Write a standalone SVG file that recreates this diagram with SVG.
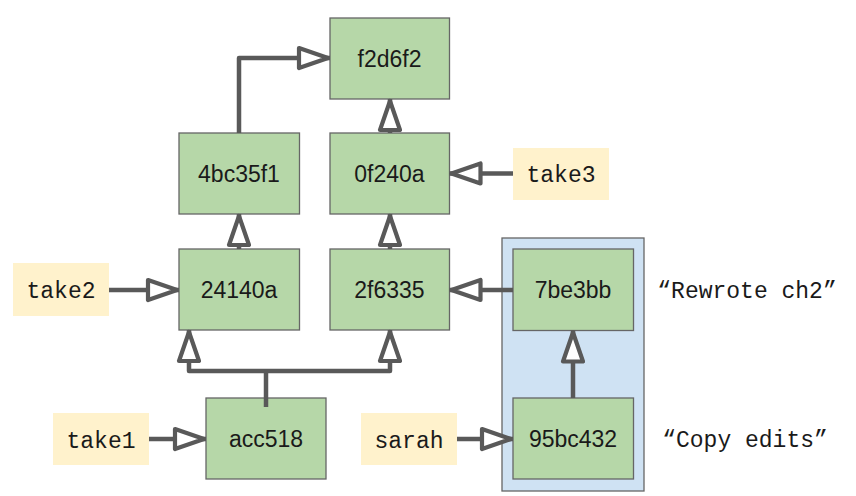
<svg xmlns="http://www.w3.org/2000/svg" width="856" height="496" viewBox="0 0 856 496">
<defs>
<style>
.commit rect{fill:#b6d7a8;stroke:#666666;stroke-width:1.3}
.commit text{font-family:"Liberation Sans",Arial,sans-serif;font-size:23px;fill:#1a1a1a;text-anchor:middle}
.ref rect{fill:#fff2cc;stroke:none}
.ref text,.note{font-family:"Liberation Mono","DejaVu Sans Mono",monospace;font-size:23px;fill:#1a1a1a;text-anchor:middle}
.group{fill:#cfe2f3;stroke:#666666;stroke-width:1.3}
.conn path{fill:none;stroke:#595959;stroke-width:4.5;stroke-linejoin:round;marker-end:url(#arr)}
.conn path.nohead{marker-end:none}
</style>
<marker id="arr" markerUnits="userSpaceOnUse" viewBox="0 0 36 26" markerWidth="36" markerHeight="26" refX="34" refY="13" orient="auto">
<path d="M3,3 L32,13 L3,23 Z" fill="#ffffff" stroke="#595959" stroke-width="4.2" stroke-linejoin="round"/>
</marker>
</defs>
<rect width="856" height="496" fill="#ffffff"/>
<rect id="branch-group" class="group" x="502" y="238" width="142" height="253"/>
<g id="f2d6f2" class="commit"><rect x="330" y="18" width="119.5" height="81"/><text x="389.5" y="66.5">f2d6f2</text></g>
<g id="4bc35f1" class="commit"><rect x="179" y="133" width="120.5" height="81"/><text x="239" y="181.5">4bc35f1</text></g>
<g id="0f240a" class="commit"><rect x="330" y="133" width="119.5" height="81"/><text x="389.5" y="181.5">0f240a</text></g>
<g id="24140a" class="commit"><rect x="179" y="249" width="120.5" height="81"/><text x="239" y="297.5">24140a</text></g>
<g id="2f6335" class="commit"><rect x="330" y="249" width="119.5" height="81"/><text x="389.5" y="297.5">2f6335</text></g>
<g id="acc518" class="commit"><rect x="206" y="398" width="120" height="81"/><text x="266" y="446.5">acc518</text></g>
<g id="7be3bb" class="commit"><rect x="513" y="249" width="120.5" height="81.5"/><text x="573" y="297.5">7be3bb</text></g>
<g id="95bc432" class="commit"><rect x="513" y="398" width="120.5" height="81"/><text x="573" y="446.5">95bc432</text></g>
<g id="take2" class="ref"><rect x="13" y="263" width="96" height="53"/><text x="61" y="298">take2</text></g>
<g id="take1" class="ref"><rect x="53" y="413" width="96" height="52"/><text x="101" y="447.5">take1</text></g>
<g id="sarah" class="ref"><rect x="361" y="413" width="96" height="52"/><text x="409" y="447.5">sarah</text></g>
<g id="take3" class="ref"><rect x="513" y="148" width="96" height="52"/><text x="561" y="182">take3</text></g>
<text id="note-rewrote" class="note" x="747" y="298">“Rewrote ch2”</text>
<text id="note-copy" class="note" x="745" y="447">“Copy edits”</text>
<g id="connectors" class="conn">
<path d="M109,290 H179"/>
<path d="M149,439 H206"/>
<path d="M457,439 H513"/>
<path d="M513,173.5 H449.5"/>
<path d="M513,290 H449.5"/>
<path d="M573,398 V330.5"/>
<path d="M239,249 V214"/>
<path d="M390,249 V214"/>
<path d="M390,133 V99"/>
<path d="M239,133 V58 H330"/>
<path class="nohead" d="M266,407 V371"/>
<path d="M266,371 H189 V330"/>
<path d="M266,371 H390 V330"/>
</g>
</svg>
